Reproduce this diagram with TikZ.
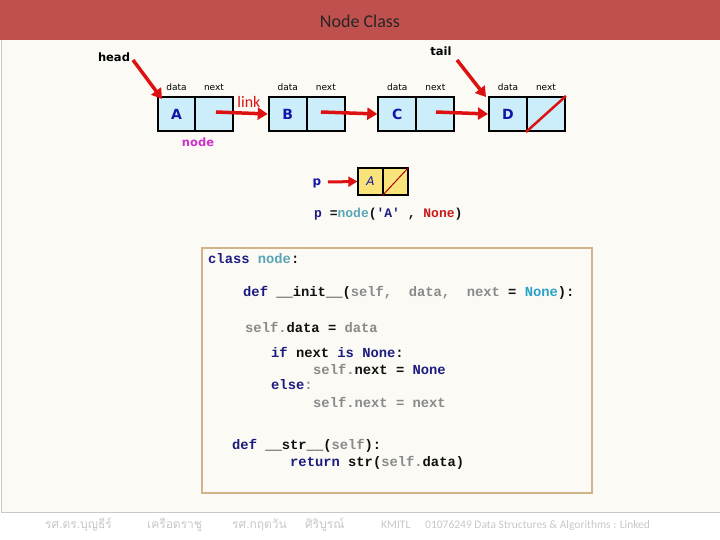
\documentclass[tikz,border=0pt]{standalone}
\usepackage{fontspec}
\setmainfont{Carlito}
\newfontfamily\dejavu{DejaVu Sans}
\newfontfamily\codefont{Liberation Mono}[BoldFont={* Bold}]
\newfontfamily\thaifont[Script=Thai]{Loma}
\usetikzlibrary{arrows.meta}
\definecolor{titlered}{HTML}{C0504D}
\definecolor{panel}{HTML}{FBFAF5}
\definecolor{cellblue}{HTML}{CCEEFA}
\definecolor{cellyellow}{HTML}{F8E47A}
\definecolor{letterblue}{HTML}{1414A8}
\definecolor{arrowred}{HTML}{DD1111}
\definecolor{nodemag}{HTML}{CC33CC}
\definecolor{codeborder}{HTML}{D2B48C}
\definecolor{cnavy}{HTML}{1C1C80}
\definecolor{cteal}{HTML}{5AA5B5}
\definecolor{ccyan}{HTML}{2AA2C8}
\definecolor{cgray}{HTML}{8A8A8A}
\definecolor{cblack}{HTML}{101010}
\definecolor{cred}{HTML}{C81818}
\definecolor{footgray}{HTML}{C8C8C8}
\newcommand{\kwn}[1]{\textcolor{cnavy}{#1}}
\newcommand{\kwt}[1]{\textcolor{cteal}{#1}}
\newcommand{\kwc}[1]{\textcolor{ccyan}{#1}}
\newcommand{\kwg}[1]{\textcolor{cgray}{#1}}
\newcommand{\kwb}[1]{\textcolor{cblack}{#1}}
\newcommand{\kwr}[1]{\textcolor{cred}{#1}}
\tikzset{
  cell/.style={draw=black, line width=2pt, fill=cellblue, minimum height=34pt,
    inner sep=0pt, font=\dejavu\bfseries\fontsize{14}{14}\selectfont, text=letterblue},
  ycell/.style={draw=black, line width=1.2pt, fill=cellyellow, minimum height=27pt,
    minimum width=25pt, inner sep=0pt, font=\dejavu\itshape\fontsize{12}{12}\selectfont, text=letterblue},
  lbl/.style={font=\dejavu\fontsize{9}{9}\selectfont, text=black, inner sep=0pt},
  redarrow/.style={draw=arrowred, line width=3.5pt, -{Triangle[length=10pt,width=12pt]}},
  codeline/.style={anchor=west, inner sep=0pt, font=\codefont\bfseries\fontsize{13.8}{13.8}\selectfont},
  foot/.style={anchor=west, inner sep=0pt, text=footgray, font=\fontsize{11.5}{11.5}\selectfont},
}
\begin{document}
\begin{tikzpicture}[x=1pt,y=-1pt]
\useasboundingbox (0,0) rectangle (720,540);
\fill[white] (0,0) rectangle (720,540);
\fill[panel] (1,40) rectangle (720,512);
\draw[footgray, line width=0.8pt] (1,40) -- (1,512) -- (720,512);
\fill[titlered] (0,0) rectangle (720,40);
\node[font=\fontsize{18}{18}\selectfont, text=black!85] (title) at (360,21) {Node Class};

% linked list nodes
\node[cell, minimum width=37pt] (Ad) at (176.5,114) {A};
\node[cell, minimum width=38pt] (An) at (214,114) {};
\node[cell, minimum width=38pt] (Bd) at (287.7,114) {B};
\node[cell, minimum width=38pt] (Bn) at (325.8,114) {};
\node[cell, minimum width=38pt] (Cd) at (397.3,114) {C};
\node[cell, minimum width=38pt] (Cn) at (435.3,114) {};
\node[cell, minimum width=38pt] (Dd) at (508,114) {D};
\node[cell, minimum width=38pt] (Dn) at (546,114) {};
\draw[arrowred, line width=2.5pt] (Dn.south west) -- (Dn.north east);

\foreach \n in {A,B,C,D}{
  \node[lbl] at ([yshift=9pt]\n d.north) {data};
  \node[lbl] at ([yshift=9pt]\n n.north) {next};
}

\node[font=\dejavu\bfseries\fontsize{11.5}{11.5}\selectfont] (head) at (114,57) {head};
\node[font=\dejavu\bfseries\fontsize{11.5}{11.5}\selectfont] (tail) at (441,51) {tail};
\draw[redarrow] (133,60) -- ([shift={(5pt,-3pt)}]Ad.north west);
\draw[redarrow] (457,60) -- ([shift={(-2pt,-1pt)}]Dd.north west);

\coordinate (a1) at (216,112);
\coordinate (b1) at (321,112);
\coordinate (c1) at (436,112);
\draw[redarrow] (a1) -- (Bd.west);
\draw[redarrow] (b1) -- (Cd.west);
\draw[redarrow] (c1) -- (Dd.west);
\node[text=arrowred, font=\fontsize{16}{16}\selectfont] (link) at (249,102) {link};
\node[text=nodemag, font=\dejavu\bfseries\fontsize{11.5}{11.5}\selectfont] (nodelbl) at (198,142) {node};

% p node
\node[ycell] (Pd) at (370.5,181.5) {A};
\node[ycell] (Pn) at (395.5,181.5) {};
\draw[red!70!black, line width=1pt] (Pn.south west) -- (Pn.north east);
\node[text=letterblue, font=\dejavu\bfseries\fontsize{12}{12}\selectfont] (p) at (317,183) {p};
\draw[draw=arrowred, line width=3pt, -{Triangle[length=9pt,width=10pt]}] (328,182) -- (Pd.west);
\node[codeline, font=\codefont\bfseries\fontsize{13}{13}\selectfont] (pline) at (314,214)
  {\kwn{p}~\kwb{=}\kwt{node}\kwb{(}\kwn{'A'}~\kwb{,}~\kwr{None}\kwb{)}};

% code box
\node[draw=codeborder, line width=1.5pt, fill=panel, minimum width=390pt, minimum height=245pt,
  anchor=north west] (codebox) at (201,247) {};
\node[codeline] (l1) at (208,259) {\kwn{class}~\kwt{node}\kwb{:}};
\node[codeline] (l2) at (243,293) {\kwn{def}~\kwb{\_\_init\_\_(}\kwg{self,}~~\kwg{data,}~~\kwg{next}~\kwb{=}~\kwc{None}\kwb{):}};
\node[codeline] (l3) at (245,327) {\kwg{self.}\kwb{data}~\kwb{=}~\kwg{data}};
\node[codeline] (l4) at (271,352) {\kwn{if}~\kwb{next}~\kwn{is}~\kwn{None}\kwb{:}};
\node[codeline] (l5) at (313,369) {\kwg{self.}\kwb{next}~\kwb{=}~\kwn{None}};
\node[codeline] (l6) at (271,385) {\kwn{else}\kwg{:}};
\node[codeline] (l7) at (313,402) {\kwg{self.next~=~next}};
\node[codeline] (l8) at (232,446) {\kwn{def}~\kwb{\_\_str\_\_(}\kwg{self}\kwb{):}};
\node[codeline] (l9) at (290,463) {\kwn{return}~\kwb{str(}\kwg{self.}\kwb{data)}};

% footer
\node[foot, font=\thaifont\fontsize{12}{12}\selectfont] (f1) at (45,525) {รศ.ดร.บุญธีร์};
\node[foot, font=\thaifont\fontsize{12}{12}\selectfont] (f2) at (147,525) {เครือตราชู};
\node[foot, font=\thaifont\fontsize{12}{12}\selectfont] (f3) at (232,525) {รศ.กฤตวัน};
\node[foot, font=\thaifont\fontsize{12}{12}\selectfont] (f4) at (305,525) {ศิริบูรณ์};
\node[foot] (f5) at (381,525) {KMITL};
\node[foot] (f6) at (425,525) {01076249 Data Structures \& Algorithms : Linked};
\end{tikzpicture}
\end{document}
